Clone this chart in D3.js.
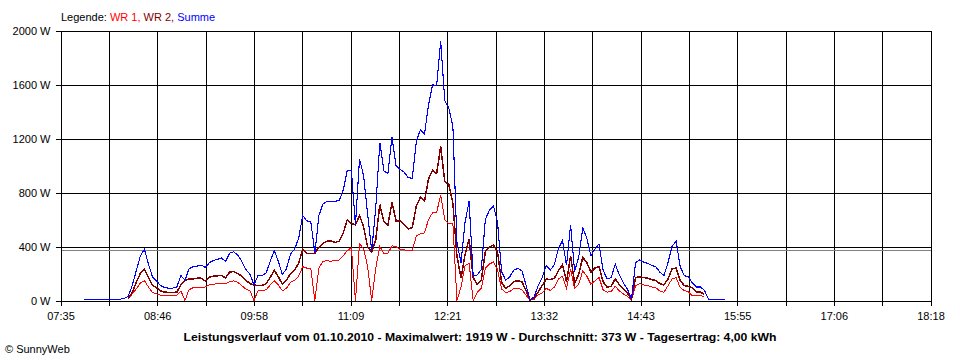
<!DOCTYPE html>
<html>
<head>
<meta charset="utf-8">
<script src="https://cdn.jsdelivr.net/npm/d3@7"></script>
<style>
  html, body { margin: 0; padding: 0; background: #fff; }
  svg { display: block; font-family: "Liberation Sans", Arial, sans-serif; }
</style>
</head>
<body>
<svg id="chart" width="960" height="360"></svg>
<script>
// ---------- data ----------
const times = [
"07:52","07:55","07:58","08:01","08:04","08:07","08:10","08:13","08:16","08:19",
"08:22","08:25","08:28","08:31","08:34","08:37","08:40","08:43","08:46","08:49",
"08:52","08:55","08:58","09:01","09:04","09:07","09:10","09:13","09:16","09:19",
"09:22","09:25","09:28","09:31","09:34","09:37","09:40","09:43","09:46","09:49",
"09:52","09:55","09:58","10:01","10:04","10:07","10:10","10:13","10:16","10:19",
"10:22","10:25","10:28","10:31","10:34","10:37","10:40","10:43","10:46","10:49",
"10:52","10:55","10:58","11:01","11:04","11:07","11:10","11:13","11:16","11:19",
"11:22","11:25","11:28","11:31","11:34","11:37","11:40","11:43","11:46","11:49",
"11:52","11:55","11:58","12:01","12:04","12:07","12:10","12:13","12:16","12:19",
"12:22","12:25","12:28","12:31","12:34","12:37","12:40","12:43","12:46","12:49",
"12:52","12:55","12:58","13:01","13:04","13:07","13:10","13:13","13:16","13:19",
"13:22","13:25","13:28","13:31","13:34","13:37","13:40","13:43","13:46","13:49",
"13:52","13:55","13:58","14:01","14:04","14:07","14:10","14:13","14:16","14:19",
"14:22","14:25","14:28","14:31","14:34","14:37","14:40","14:43","14:46","14:49",
"14:52","14:55","14:58","15:01","15:04","15:07","15:10","15:13","15:16","15:19",
"15:22","15:25","15:28","15:31","15:34","15:37","15:40","15:43","15:46"
];
const summe = [
8,8,8,8,8,8,6,8,8,10,
15,30,110,220,330,380,270,175,145,110,
95,92,92,100,185,150,235,250,255,262,
245,280,296,305,315,290,350,362,335,290,
230,195,115,185,185,205,290,370,290,192,
235,345,380,460,630,590,585,350,630,715,
735,730,735,740,820,965,960,560,1050,925,
640,365,690,1170,960,940,1210,1000,970,950,
910,905,1180,1265,1230,1450,1600,1590,1919,1480,
1425,1290,430,280,580,735,180,190,230,600,
670,700,580,215,150,175,225,238,220,115,
6,25,110,170,260,225,265,385,445,260,
560,215,320,540,460,333,380,420,225,160,
170,270,190,130,86,12,280,300,284,275,
260,250,210,185,280,400,440,250,185,175,
130,100,100,74,7,7,7,7,7
];
// null = inverter not reporting
const wr2 = [
null,null,null,null,null,null,null,null,null,null,
null,15,60,135,200,233,170,110,95,70,
62,60,60,62,115,150,160,160,165,165,
145,172,180,183,185,168,210,215,200,180,
150,125,115,111,111,125,170,225,175,120,
150,200,225,275,380,350,346,350,395,425,
440,440,430,440,500,600,570,560,630,545,
395,360,450,710,585,560,725,590,590,565,
530,540,700,765,735,900,965,940,1140,880,
860,720,330,165,340,455,170,120,150,365,
395,410,360,135,90,110,140,146,140,74,
4,15,62,111,160,155,165,220,265,140,
330,125,195,320,280,210,240,250,140,98,
105,160,118,85,55,10,170,175,170,165,
155,148,125,115,160,235,240,148,111,105,
95,62,62,45,null,null,null,null,null
];
const wr1 = [
null,null,null,null,null,null,null,null,null,null,
null,10,50,85,130,147,100,60,50,40,
37,35,35,38,70,0,80,95,100,100,
100,115,120,125,128,125,140,145,135,110,
85,72,0,74,74,80,115,145,115,72,
90,135,150,180,250,240,235,0,240,290,
295,290,300,300,330,370,390,0,420,385,
250,0,240,400,350,350,405,400,375,375,
370,370,480,495,500,600,650,655,779,600,
570,570,0,100,260,275,0,60,90,240,
270,285,230,85,60,65,90,92,80,40,
2,8,44,55,90,75,100,160,180,90,
230,88,120,220,180,120,145,170,80,62,
65,105,72,48,32,2,110,125,115,110,
100,95,70,60,110,160,170,95,74,65,
35,37,37,25,null,null,null,null,null
];
const yTicks = [0, 400, 800, 1200, 1600, 2000];
const xTickLabels = ["07:35","08:46","09:58","11:09","12:21","13:32","14:43","15:55","17:06","18:18"];
const average = 373;
const legendItems = [
  {text: "WR 1, ", color: "#ff0000"},
  {text: "WR 2, ", color: "#800000"},
  {text: "Summe", color: "#0000ff"}
];
const titleText = "Leistungsverlauf vom 01.10.2010 - Maximalwert: 1919 W - Durchschnitt: 373 W - Tagesertrag: 4,00 kWh";

// ---------- drawing ----------
const toMin = s => { const p = s.split(":"); return +p[0] * 60 + +p[1]; };
const svg = d3.select("#chart");
const L = 60, R = 930, T = 30, B = 300;
const t0 = toMin(xTickLabels[0]), t1 = toMin(xTickLabels[xTickLabels.length - 1]);
const x = d3.scaleLinear().domain([t0, t1]).range([L, R]);
const y = d3.scaleLinear().domain([0, 2000]).range([B, T]);

const g = svg.append("g").attr("transform", "translate(0.5,0.5)");

const nGrid = (xTickLabels.length - 1) * 2;
const gridVals = d3.range(nGrid + 1).map(k => t0 + k * (t1 - t0) / nGrid);

// horizontal grid
g.append("g")
  .attr("transform", `translate(${L},0)`)
  .call(d3.axisLeft(y).tickValues(yTicks).tickSize(-(R - L)).tickFormat(""))
  .call(s => s.select(".domain").remove())
  .selectAll("line").attr("stroke", "#000").attr("shape-rendering", "crispEdges");

// vertical grid
g.append("g")
  .attr("transform", `translate(0,${B})`)
  .call(d3.axisBottom(x).tickValues(gridVals).tickSize(-(B - T)).tickFormat(""))
  .call(s => s.select(".domain").remove())
  .selectAll("line").attr("stroke", "#000").attr("shape-rendering", "crispEdges");

// average line
g.append("line")
  .attr("x1", L).attr("x2", R)
  .attr("y1", Math.round(y(average))).attr("y2", Math.round(y(average)))
  .attr("stroke", "#808080").attr("stroke-width", 1).attr("shape-rendering", "crispEdges");

// series
const tm = times.map(toMin);
const line = d3.line()
  .defined(d => d !== null)
  .x((d, i) => x(tm[i])).y(d => y(d));
const series = [
  {vals: wr1, color: "#ff0000", w: 1},
  {vals: wr2, color: "#800000", w: 1.5},
  {vals: summe, color: "#0000ff", w: 1.1}
];
series.forEach(s => {
  g.append("path").datum(s.vals)
    .attr("d", line)
    .attr("fill", "none")
    .attr("stroke", s.color)
    .attr("stroke-width", s.w)
    .attr("shape-rendering", "crispEdges");
});

// axes on top
const yAxis = g.append("g")
  .attr("transform", `translate(${L},0)`)
  .call(d3.axisLeft(y).tickValues(yTicks).tickSize(5).tickSizeOuter(0).tickPadding(5)
        .tickFormat(d => d + " W"));
const xAxis = g.append("g")
  .attr("transform", `translate(0,${B})`)
  .call(d3.axisBottom(x).tickValues(gridVals).tickSize(5).tickSizeOuter(0).tickPadding(7)
        .tickFormat((d, i) => i % 2 === 0 ? xTickLabels[i / 2] : ""));
[yAxis, xAxis].forEach(a => {
  a.selectAll("path,line").attr("stroke", "#000").attr("shape-rendering", "crispEdges");
  a.selectAll("text").attr("fill", "#000").style("font-size", "11px")
    .style("font-family", "'Liberation Sans', Arial, sans-serif");
});

// legend
const leg = svg.append("text").attr("x", 61).attr("y", 20.5)
  .style("font-size", "11px").attr("fill", "#000");
leg.append("tspan").text("Legende: ");
legendItems.forEach(it => leg.append("tspan").attr("fill", it.color).text(it.text));

// title
const title = svg.append("text").attr("x", 480).attr("y", 340.5)
  .attr("text-anchor", "middle")
  .style("font-size", "11.5px").style("font-weight", "bold")
  .attr("fill", "#000").text(titleText);
const tl = title.node().getComputedTextLength();
if (Math.abs(tl - 593) > 3) title.attr("textLength", 593).attr("lengthAdjust", "spacingAndGlyphs");

// copyright
svg.append("text").attr("x", 5).attr("y", 353)
  .style("font-size", "11px").attr("fill", "#000").text("© SunnyWeb");
</script>
</body>
</html>
